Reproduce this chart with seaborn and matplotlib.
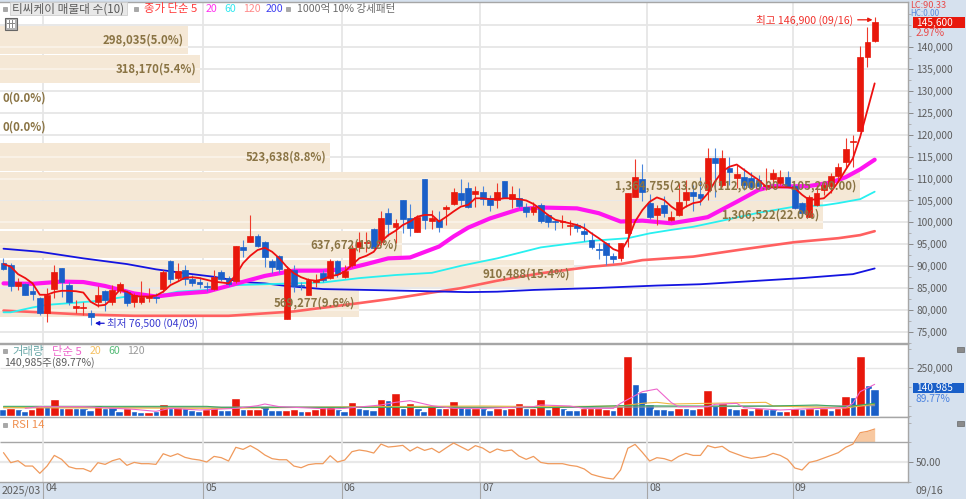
import pandas as pd
import numpy as np
import matplotlib
matplotlib.use('Agg')
import matplotlib.pyplot as plt
import matplotlib.patches as mpatches
from matplotlib.transforms import ScaledTranslation
import seaborn as sns

# daily candles, 2025/03 ~ 09/16
opens = [90700,90300,85600,86000,84400,82700,79400,84900,89500,85800,
         80400,80400,79300,81900,84300,81900,84600,84100,81900,81900,
         82800,82900,84800,91300,87300,89200,87000,86300,85400,84800,
         88800,87400,86700,94300,95500,97000,95600,91300,92300,77900,
         89200,85700,83500,86400,88400,87300,91300,87600,90300,94300,
         95200,98400,95600,102100,99000,105000,101100,97800,109900,100300,
         100600,103000,104100,106800,107900,106400,106900,105500,105000,109500,
         105300,105500,103400,102300,104000,101700,100300,100100,99200,99300,
         98000,96000,94000,95200,92300,91800,97500,105700,110000,104400,
         101800,104000,100600,101800,105000,107000,106500,107400,114800,108500,
         112300,110100,110400,110100,109700,108200,110000,108900,110300,108200,
         104400,101300,104000,107500,108200,110600,113700,118300,120800,137800,141400]
highs = [91800,90700,87300,86100,85700,83100,85000,90300,89500,86500,
         82300,81900,80000,85400,84600,85700,86500,84600,83800,86700,
         85000,84000,89200,91400,90800,90300,88000,87600,86500,89200,
         89200,87800,94600,96100,101800,97300,95800,91600,92600,90100,
         90300,86500,87300,88200,89200,91600,91400,90300,94900,97900,
         97900,98700,102500,103200,100700,105100,104200,101700,109900,102800,
         102700,104000,107800,109800,109300,108200,108200,106300,108900,109500,
         108200,107800,104400,104700,104400,101900,100600,101700,100600,99800,
         99800,97900,95200,95600,93000,95400,106600,114500,113300,106500,
         104000,106000,102500,108900,109700,108500,110400,116900,116900,116500,
         115000,113100,112300,111600,110800,112500,112100,112000,111800,108500,
         104700,106300,108500,109300,111200,113600,119200,119900,140200,144500,146900]
lows = [89200,84400,84600,83500,82300,78900,77400,82700,83100,81200,
        79300,78900,76500,80800,79700,81200,83800,80900,80800,81400,
        81900,81600,84200,86100,86700,85700,85400,85000,84400,84600,
        86700,85400,86100,92200,95500,94300,89900,88400,88500,77900,
        84200,84600,83500,85200,86500,87000,87600,87300,89900,93300,
        93300,93900,94900,96800,95400,97500,97000,97700,98400,98400,
        97900,99400,104000,104000,103200,103600,104000,102500,103200,105500,
        103200,103200,101200,101700,99800,98900,98300,98800,97100,97900,
        95800,93900,91600,90300,90800,91300,94300,105700,104900,100800,
        99400,101200,100300,101500,103600,102500,104000,105100,105900,108000,
        108500,107800,107400,107800,107500,107400,107800,108500,108200,103000,
        101500,101200,103700,106300,106600,109300,112300,112700,120800,135500,141200]
closes = [89300,85600,86300,83500,83700,79400,83500,88800,86500,81800,
          80900,80700,78400,83500,82300,84600,86000,81600,83500,82900,
          83200,82700,88700,87200,89000,87000,86100,86000,85200,87600,
          87000,85900,94600,93700,97000,94600,92000,89800,89300,89400,
          85500,85400,86900,86900,86900,91300,88200,88900,94100,95500,
          95600,94100,100900,99600,99900,100800,98700,101300,100600,101100,
          99000,103400,107000,105000,103600,107200,105300,104000,106900,105600,
          106400,103700,102300,103600,100400,100200,100100,100300,99400,98700,
          97400,94500,93800,92600,91700,95200,106600,110400,106900,101200,
          103200,102100,101300,104600,107000,106000,105600,114600,113500,114800,
          111600,111000,108500,108000,108200,108500,111200,110300,108400,103200,
          102100,105900,106800,108500,110600,112600,116700,118500,137800,141200,145600]

# price moving averages
ma5 = [90500,89900,88200,87300,86100,83500,83500,84100,84400,84400,
       84300,84000,81900,81000,81200,82700,84600,84200,83200,83100,
       83100,83300,84200,85700,86500,87400,87500,87300,86900,86500,
       86300,86100,88000,90700,92400,93700,94200,93300,91800,89900,
       88400,87500,86900,86700,87000,87800,88000,88800,90300,91800,
       92400,93300,95600,97100,98100,99400,100200,101300,101700,101700,
       100200,101300,102500,103600,104000,105500,105500,105300,105300,105500,
       105500,105300,105000,104200,103000,101700,100600,100200,99800,99400,
       98700,97500,96400,95200,93900,93300,96000,100200,102800,104700,
       105700,105100,103600,102500,103600,104400,104700,106600,109300,111600,
       112700,113200,112000,110800,109700,108200,108000,108000,108000,107800,
       106300,105100,105300,105500,107000,109300,112000,114600,119500,125600,131700]
ma20_idx = [0,4,8,11,14,18,21,24,28,32,36,40,44,47,50,53,56,60,62,64,67,71,74,79,82,85,88,92,95,97,101,104,106,108,111,114,116,118,120]
ma20 = [86100,86000,86500,86400,85500,83800,83100,83700,84200,86000,87800,89000,89000,89300,90500,91800,92000,94500,96800,98800,
        100900,103000,103400,103200,102100,100200,100400,99800,100600,101200,104700,107400,108300,108200,108300,109100,110300,112100,114300]
ma60_idx = [0,1,4,6,10,13,17,21,24,28,32,44,49,54,59,63,68,74,81,86,89,92,95,99,104,109,113,115,118,120]
ma60 = [79500,79500,80600,81200,81700,82100,83100,83200,84200,84600,85700,86300,87300,88000,88500,90100,91800,94300,95800,96400,
        97500,98300,99000,100400,102200,103600,103900,104400,105300,107000]
ma120_idx = [0,5,11,18,31,40,49,54,59,63,68,74,81,85,88,95,102,109,115,118,120]
ma120 = [79900,79500,79000,78700,78700,79700,81600,82700,84000,85000,86700,88400,89900,90500,91400,92200,93900,95500,96400,97100,98000]
ma200_idx = [0,5,11,17,21,25,29,31,33,36,39,44,53,64,68,73,81,90,96,110,117,120]
ma200 = [94000,93300,91800,90500,89300,88400,87600,87000,86400,86100,85500,84800,84500,84100,84200,84600,85000,85600,85900,87300,88200,89500]

# volume
volumes = [34700,41700,34700,24300,34700,57300,52100,86800,41700,41700,
           41700,41700,31200,57300,41700,45100,24300,41700,24300,20800,
           20800,24300,62500,41700,45100,41700,29500,24300,34700,45100,
           31200,31200,95500,34700,34700,34700,52100,31200,31200,31200,
           38200,24300,27800,34700,48600,53800,38200,24300,71200,41700,
           34700,31200,90300,81600,118000,41700,66000,41700,24300,55600,
           41700,41700,79900,48600,41700,41700,43400,29500,39900,38200,
           41700,66000,41700,41700,90300,34700,55600,39900,29500,29500,
           43400,43400,39900,38200,29500,53800,314200,164900,123300,62500,
           34700,34700,29500,43400,43400,36500,39900,133700,57300,66000,
           43400,38200,43400,29500,43400,34700,34700,26000,24300,41700,
           36500,39900,36500,39900,33000,39900,105900,99000,314200,161400,140985]
vol_dir = list('BRBBRRBRBR' 'BBBRBBBRBB' 'RBRBRBBBRR' 'BBRBRRBBBR' 'RBRRRRBBRB'
               'BBRBRBRBBR' 'BRRBBRBBRB' 'RRBRRBRBBB' 'RRRRBRRBBB' 'BBBRBBRRBR'
               'BBRBRBBBRR' 'BRBRBRRBRBB')
vma5_idx = [3,5,11,18,21,23,27,32,35,36,38,45,47,52,54,56,59,62,66,73,74,78,80,84,85,88,90,92,93,97,98,101,102,107,110,116,117,118,120]
vma5 = [39900,48600,48600,34700,24300,39900,31200,39900,53800,62500,48600,36500,39900,57300,71200,79900,53800,39900,39900,48600,
        57300,52100,39900,39900,66000,126700,140600,69400,48600,48600,60800,66000,43400,31200,36500,43400,66000,126700,164900]
vma20_idx = [0,30,50,66,75,85,88,90,92,97,105,106,116,120]
vma20 = [43400,39900,48600,52100,48600,52100,66000,71200,62500,66000,71200,52100,41700,62500]
vma60_idx = [0,28,30,66,75,85,92,106,112,116,120]
vma60 = [50300,50300,45100,45100,43400,53800,52100,52100,57300,48600,66000]
vma120_idx = [0,40,80,120]
vma120 = [43400,46900,45100,53800]

# RSI 14
rsi = [59.5,49.3,51.3,45.9,45.9,38.5,45.9,56.7,52.7,45.2,43.2,43.2,40.2,49.3,47.6,51.3,53.4,46.6,49.6,48.3,
       48.3,47.6,58.4,55.7,58.4,54.7,53.0,52.0,50.0,55.7,54.4,51.0,64.9,62.8,66.6,62.5,57.1,53.4,52.3,52.3,
       45.9,44.2,47.3,48.3,48.3,56.4,50.0,52.0,60.5,62.2,61.1,59.1,68.2,65.2,65.9,66.9,61.1,65.2,61.8,63.9,
       59.5,64.5,69.3,65.5,61.8,66.6,64.2,59.5,63.2,61.1,62.2,56.1,52.7,55.7,49.6,48.3,48.3,48.3,46.6,45.6,
       42.9,37.5,35.4,33.7,32.7,41.9,63.9,67.9,59.8,51.0,54.4,53.4,51.0,55.7,58.8,56.7,56.7,66.6,64.5,65.9,
       60.8,58.1,55.4,53.7,54.7,55.7,58.8,56.7,52.7,43.9,41.9,49.6,51.3,54.0,56.7,59.5,64.9,68.2,79.8,81.1,83.5]

# volume by price (매물대)
band_price = [141600,134960,128300,121640,114990,108330,101670,95000,88360,81700]
band_vol = [298035,318170,0,0,523638,1364755,1306522,637672,910488,569277]
band_labels = ['298,035(5.0%)','318,170(5.4%)','0(0.0%)','0(0.0%)','523,638(8.8%)',
               '1,364,755(23.0%)(112,000.00 ~ 105,200.00)','1,306,522(22.0%)',
               '637,672(10.8%)','910,488(15.4%)','569,277(9.6%)']

month_pos = [5.5, 27.5, 46.6, 65.7, 88.7, 108.7]
month_labels = ['04', '05', '06', '07', '08', '09']
price_ticks = list(range(75000, 145000, 5000))

W, H = 966, 499
RED = '#e8180c'
BLUE = '#1a5fc8'
PANEL = '#d6e1ee'
GRID = '#e6e6e6'
TXT = '#5c5c5c'

sns.set_theme(style='white')
plt.rcParams['font.family'] = ['Noto Sans CJK KR', 'DejaVu Sans']
plt.rcParams['axes.unicode_minus'] = False


def rect(x0, y0, x1, y1):
    return [x0 / W, 1 - y1 / H, (x1 - x0) / W, (y1 - y0) / H]


def ptext(x, y, s, color=TXT, size=7.6, **kw):
    return fig.text(x / W, 1 - y / H, s, color=color, fontsize=size, va='center', zorder=20, **kw)


def box(x0, y0, x1, y1, fc, ec='none', lw=0.0, z=19):
    fig.patches.append(mpatches.Rectangle((x0 / W, 1 - y1 / H), (x1 - x0) / W, (y1 - y0) / H,
                                          transform=fig.transFigure, facecolor=fc, edgecolor=ec, lw=lw, zorder=z))


def bullet(x, y):
    box(x, y - 2, x + 4, y + 2, '#a8a8a8', '#888888', 0.4, 20)


def line(target, x, y, color, width, z):
    sns.lineplot(x=x, y=y, color=color, linewidth=width, ax=target, estimator=None, zorder=z,
                 solid_joinstyle='round', solid_capstyle='round')


fig = plt.figure(figsize=(W / 100, H / 100), dpi=100, facecolor=PANEL)
x_lim = (-0.482, 124.55)
y_lim = (72512, 150260)

# grid layer under the beige bars
ax_grid = fig.add_axes(rect(0, 2, 907.7, 343), zorder=0, facecolor='white')
ax_grid.set_xlim(x_lim)
ax_grid.set_ylim(y_lim)
ax_grid.hlines(price_ticks + [145000], *x_lim, color=GRID, lw=1.3)
ax_grid.vlines(month_pos, *y_lim, color=GRID, lw=1.3)
ax_grid.set_xticks([])
ax_grid.set_yticks([])
for spine in ax_grid.spines.values():
    spine.set_visible(False)

# volume by price
ax_vp = fig.add_axes(rect(0, 2, 907.7, 343), zorder=1, facecolor='none')
ax_vp.set_xlim(0, 907.7 / 6.3e-4)
ax_vp.set_ylim(y_lim)
ax_vp.barh(band_price, band_vol, height=6300, color='#f5e8d6', linewidth=0)
for p, v in zip(band_price, band_vol):
    for t in price_ticks + [145000]:
        if abs(t - p) < 3150 and v > 0:
            ax_vp.hlines(t, 0, v, color='#fbf4ea', lw=1.2)
ax_vp.axis('off')

# candles
ax = fig.add_axes(rect(0, 2, 907.7, 343), zorder=2, facecolor='none')
candles = pd.DataFrame({'open': opens, 'high': highs, 'low': lows, 'close': closes})
candles['i'] = candles.index
up = candles['close'] >= candles['open']
line(ax, ma120_idx, ma120, '#ff6060', 1.9, 2)
line(ax, ma200_idx, ma200, '#1414e0', 1.3, 2)
line(ax, ma60_idx, ma60, '#28f0f0', 1.3, 2)
line(ax, ma20_idx, ma20, '#ff14f0', 3.0, 2)
ax.vlines(candles.loc[up, 'i'], candles.loc[up, 'low'], candles.loc[up, 'high'], color='#ee3a2c', lw=0.8, zorder=3)
ax.vlines(candles.loc[~up, 'i'], candles.loc[~up, 'low'], candles.loc[~up, 'high'], color='#4a86dc', lw=0.8, zorder=3)
ax.bar(candles['i'], candles['close'] - candles['open'], bottom=candles['open'], width=0.8,
       color=np.where(up, RED, BLUE), edgecolor=np.where(up, RED, BLUE), linewidth=0.5, zorder=4)
line(ax, list(range(len(ma5))), ma5, '#ee1010', 1.3, 5)

ax.set_xlim(x_lim)
ax.set_ylim(y_lim)
ax.set_xlabel('')
ax.set_ylabel('')
ax.set_xticks([])
ax.yaxis.tick_right()
ax.set_yticks(price_ticks)
ax.set_yticks(list(range(72500, 150000, 2500)), minor=True)
ax.set_yticklabels([f'{t:,}' for t in price_ticks], fontsize=7.3, color=TXT)
ax.tick_params(axis='y', which='major', right=True, length=3.5, width=0.7, color='#888888', pad=2.5)
ax.tick_params(axis='y', which='minor', right=True, length=2, width=0.6, color='#aaaaaa')
for name, spine in ax.spines.items():
    spine.set_visible(name in ('top', 'right', 'bottom'))
    spine.set_color('#a6a6a6')
    spine.set_linewidth(1.0)

ax_top = fig.add_axes(rect(0, 2, 907.7, 343), zorder=4, facecolor='none')
ax_top.set_xlim(ax_vp.get_xlim())
ax_top.set_ylim(y_lim)
ax_top.axis('off')
for p, v, s in zip(band_price, band_vol, band_labels):
    if v > 0:
        ax_top.text(v - 6000, p, s, ha='right', va='center', color='#8a7444', fontsize=8.2, fontweight='bold')
    else:
        ax_top.text(3200, p, s, ha='left', va='center', color='#8a7444', fontsize=8.2, fontweight='bold')

ax.annotate('최고 146,900 (09/16)', xy=(119.7, 146200), xytext=(-14, 0), textcoords='offset points',
            ha='right', va='center', color='#f0302a', fontsize=7.6,
            arrowprops=dict(arrowstyle='-|>', color=RED, lw=0.9, mutation_scale=6, shrinkA=1, shrinkB=0), zorder=12)
ax.annotate('최저 76,500 (04/09)', xy=(12.6, 77000), xytext=(9, 0), textcoords='offset points',
            ha='left', va='center', color='#3a3ad0', fontsize=7.6,
            arrowprops=dict(arrowstyle='-|>', color='#1414d0', lw=0.9, mutation_scale=6, shrinkA=0, shrinkB=0), zorder=12)

# volume pane
ax_vol = fig.add_axes(rect(0, 343.5, 907.7, 417), zorder=1, facecolor='white')
ax_vol.hlines(250000, *x_lim, color=GRID, lw=1.0)
ax_vol.vlines(month_pos, -5200, 377600, color=GRID, lw=1.3)
vol_df = pd.DataFrame({'i': range(len(volumes)), 'vol': volumes, 'dir': vol_dir})
sns.barplot(data=vol_df, x='i', y='vol', hue='dir', palette={'R': RED, 'B': BLUE}, native_scale=True,
            dodge=False, width=1.2, saturation=1, legend=False, ax=ax_vol, zorder=3)
line(ax_vol, vma120_idx, vma120, '#9a9a9a', 0.8, 4)
line(ax_vol, vma20_idx, vma20, '#f0b840', 0.8, 4)
line(ax_vol, vma60_idx, vma60, '#3fa860', 0.8, 4)
line(ax_vol, vma5_idx, vma5, '#ee66cc', 0.8, 5)
ax_vol.set_xlim(x_lim)
ax_vol.set_ylim(-5200, 377600)
ax_vol.set_xlabel('')
ax_vol.set_ylabel('')
ax_vol.set_xticks([])
ax_vol.yaxis.tick_right()
ax_vol.set_yticks([250000])
ax_vol.set_yticks([0, 50000, 150000, 350000], minor=True)
ax_vol.set_yticklabels(['250,000'], fontsize=7.3, color=TXT)
ax_vol.tick_params(axis='y', which='major', right=True, length=3.5, width=0.7, color='#888888', pad=2.5)
ax_vol.tick_params(axis='y', which='minor', right=True, length=2, width=0.6, color='#aaaaaa')

# RSI pane
ax_rsi = fig.add_axes(rect(0, 417, 907.7, 481.7), zorder=1, facecolor='white')
ax_rsi.hlines(50, *x_lim, color='#e8e8e8', lw=1.6)
ax_rsi.hlines(70, *x_lim, color='#a6a6a6', lw=1.0)
ax_rsi.vlines(month_pos, 30, 95.7, color=GRID, lw=1.3)
rsi_x = np.arange(len(rsi))
ax_rsi.fill_between(rsi_x, 70, rsi, where=np.array(rsi) > 70, interpolate=True, color='#f8c8a0', lw=0)
line(ax_rsi, list(rsi_x), rsi, '#f09a5c', 0.9, 4)
ax_rsi.set_xlim(x_lim)
ax_rsi.set_ylim(30, 95.7)
ax_rsi.set_xlabel('')
ax_rsi.set_ylabel('')
ax_rsi.yaxis.tick_right()
ax_rsi.set_yticks([50])
ax_rsi.set_yticks([30, 70, 90], minor=True)
ax_rsi.set_yticklabels(['50.00'], fontsize=7.3, color=TXT)
ax_rsi.tick_params(axis='y', which='major', right=True, length=3.5, width=0.7, color='#888888', pad=2.5)
ax_rsi.tick_params(axis='y', which='minor', right=True, length=2, width=0.6, color='#aaaaaa')
ax_rsi.set_xticks(month_pos)
ax_rsi.set_xticklabels(month_labels, fontsize=7.6, color=TXT, ha='left')
ax_rsi.tick_params(axis='x', bottom=True, length=12, width=0.8, color='#a6a6a6', pad=-11)
for lab in ax_rsi.get_xticklabels():
    lab.set_transform(lab.get_transform() + ScaledTranslation(1.5 / 72, 0, fig.dpi_scale_trans))

for a in (ax_vol, ax_rsi):
    for name, spine in a.spines.items():
        spine.set_visible(name in ('top', 'right', 'bottom'))
        spine.set_color('#a6a6a6')
        spine.set_linewidth(1.0)

# top legend strip
bullet(2.7, 8.7)
box(9.5, 2.5, 127, 14.5, '#e8e8e8', '#cfcfcf', 0.6)
ptext(12, 8.7, '티씨케이 매물대 수(10)', size=8.4)
bullet(134, 8.7)
ptext(144, 8.7, '종가 단순 5', color='#ff3a3a', size=8.2)
ptext(206, 8.7, '20', color='#ff30f0')
ptext(224.5, 8.7, '60', color='#30e8f0')
ptext(243, 8.7, '120', color='#ff8a8a')
ptext(266, 8.7, '200', color='#4040f0')
bullet(286, 8.7)
ptext(297, 8.7, '1000억 10% 강세패턴', color='#6a6a6a')

# small table button
box(4.5, 18, 17, 30, '#b4b4b4', '#666666', 0.8, 20)
box(6.5, 20.5, 15, 27.5, 'white', z=21)
box(6.5, 23, 15, 23.8, '#8a8a8a', z=22)
box(9.2, 20.5, 10, 27.5, '#8a8a8a', z=22)
box(12, 20.5, 12.8, 27.5, '#8a8a8a', z=22)

ptext(910, 5.5, 'LC:90.33', color='#e84a4a', size=6.6)
ptext(910, 13, 'HC:0.00', color='#5a8ade', size=5.8)
box(912.7, 17.3, 965, 28, RED)
ptext(916, 22.7, '145,600', color='white', size=7.3)
ptext(916, 33.5, '2.97%', color='#e84a4a', size=7.3)

# pane legends
bullet(2.7, 351)
ptext(12, 351, '거래량', color='#6aa8a8', size=8.2)
ptext(52, 351, '단순 5', color='#ee66cc', size=8.2)
ptext(90, 351, '20', color='#f5c060')
ptext(108, 351, '60', color='#55bb77')
ptext(127, 351, '120', color='#9a9a9a')
ptext(4, 363, '140,985주(89.77%)')
bullet(2.7, 425)
ptext(12, 425, 'RSI 14', color='#f09050', size=8.2)

box(912.7, 382.7, 964, 393.3, BLUE)
ptext(916, 388, '140,985', color='white', size=7.3)
ptext(916, 399.3, '89.77%', color='#4a82e0', size=7.3)
for y in (349.5, 423.5):
    box(957, y - 2.8, 964, y + 2.8, '#8a8a8a', '#555555', 0.4, 20)

ptext(2, 490.5, '2025/03')
ptext(916, 490.5, '09/16')

fig.savefig('out.png', dpi=100)
